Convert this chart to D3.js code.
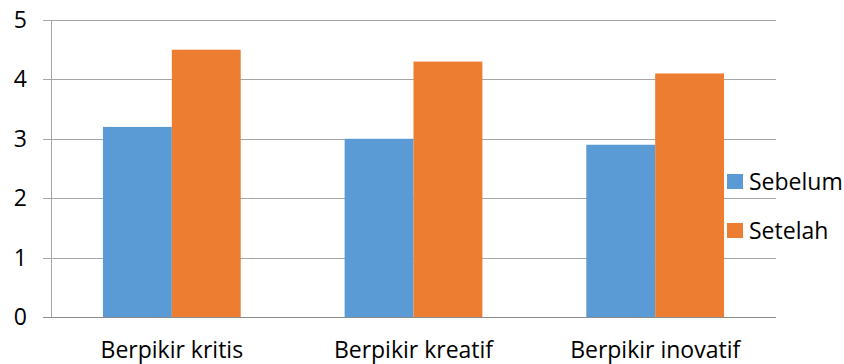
<!DOCTYPE html>
<html><head><meta charset="utf-8">
<script src="https://cdn.jsdelivr.net/npm/d3@7"></script>
<style>body{margin:0;background:#fff}svg{display:block}</style>
</head><body>
<svg id="c" width="844" height="364"></svg>
<script>
const categories = ["Berpikir kritis", "Berpikir kreatif", "Berpikir inovatif"];
const seriesNames = ["Sebelum", "Setelah"];
const sebelum = [3.2, 3.0, 2.9];
const setelah = [4.5, 4.3, 4.1];
const yTicks = [0, 1, 2, 3, 4, 5];
const colors = ["#5B9BD5", "#ED7D31"];

(function () {
const svg = d3.select("#c");
const font = "'Open Sans', sans-serif";
const fs = 23;
const mLeft = 51, mRight = 776, mTop = 20, mBottom = 317;

const y = d3.scaleLinear().domain([0, 5]).range([mBottom, mTop]);
const x0 = d3.scaleBand().domain(categories).range([mLeft, mRight]).paddingInner(0.43).paddingOuter(0.215);
const x1 = d3.scaleBand().domain(seriesNames).range([0, x0.bandwidth()]);

svg.append("g").selectAll("line").data(yTicks.filter(d => d > 0)).join("line")
  .attr("x1", 43).attr("x2", mRight)
  .attr("y1", d => Math.round(y(d)) + 0.5).attr("y2", d => Math.round(y(d)) + 0.5)
  .attr("stroke", "#A6A6A6").attr("stroke-width", 1);

svg.append("line").attr("x1", mLeft + 0.5).attr("x2", mLeft + 0.5)
  .attr("y1", mTop).attr("y2", mBottom).attr("stroke", "#A6A6A6");

const data = categories.map((c, i) => ({c, vals: [sebelum[i], setelah[i]]}));
const g = svg.append("g").selectAll("g").data(data).join("g")
  .attr("transform", d => `translate(${x0(d.c)},0)`);
g.selectAll("rect").data(d => d.vals.map((v, j) => ({v, s: seriesNames[j], j}))).join("rect")
  .attr("x", d => x1(d.s)).attr("width", x1.bandwidth())
  .attr("y", d => y(d.v)).attr("height", d => mBottom - y(d.v))
  .attr("fill", d => colors[d.j]);

svg.append("line").attr("x1", 43).attr("x2", mRight)
  .attr("y1", mBottom + 0.5).attr("y2", mBottom + 0.5).attr("stroke", "#8C8C8C");

svg.append("g").selectAll("text").data(yTicks).join("text")
  .attr("x", 27).attr("y", d => y(d) + 8)
  .attr("text-anchor", "end").attr("font-family", font).attr("font-size", fs).attr("fill", "#000")
  .text(d => d);

svg.append("g").selectAll("text").data(categories).join("text")
  .attr("x", d => x0(d) + x0.bandwidth() / 2).attr("y", 358)
  .attr("text-anchor", "middle").attr("font-family", font).attr("font-size", fs).attr("fill", "#000")
  .text(d => d);

const lg = svg.append("g").selectAll("g").data(seriesNames).join("g")
  .attr("transform", (d, i) => `translate(727,${174 + i * 49})`);
lg.append("rect").attr("width", 16).attr("height", 15).attr("fill", (d, i) => colors[i]);
lg.append("text").attr("x", 22).attr("y", 15.5).attr("font-family", font).attr("font-size", fs).attr("fill", "#000").text(d => d);
})();
</script>
</body></html>
